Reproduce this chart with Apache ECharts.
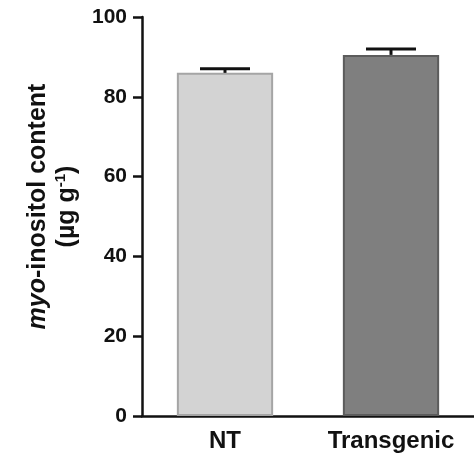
<!DOCTYPE html>
<html>
<head>
<meta charset="utf-8">
<script src="https://cdn.jsdelivr.net/npm/echarts@6/dist/echarts.min.js"></script>
<style>
  html, body { margin: 0; padding: 0; background: #fff; }
  #chart { width: 474px; height: 455px; }
</style>
</head>
<body>
<div id="chart"></div>
<script>
// data
var categories = ['NT', 'Transgenic']
var meanValues = [86, 90.5]
var errValues = [1, 1.5]
var yTicks = [0, 20, 40, 60, 80, 100]

var barColors = ['#d3d3d3', '#7f7f7f']
var barBorders = ['#a5a5a5', '#5c5c5c']

var myChart = echarts.init(document.getElementById('chart'))
var font = 'Liberation Sans, Arial, sans-serif'

const option = {
  animation: false,
  grid: {
    left: 142,
    right: 0,
    top: 17,
    bottom: 39
  },
  xAxis: {
    type: 'category',
    data: categories,
    // 坐标轴
    axisLine: { lineStyle: { color: '#111', width: 2.5 } },
    axisTick: { alignWithLabel: true, length: 8, lineStyle: { color: '#111', width: 2.5 } },
    axisLabel: {
      color: '#111',
      fontFamily: font,
      fontWeight: 'bold',
      fontSize: 24,
      margin: 13
    }
  },
  yAxis: {
    type: 'value',
    min: 0,
    max: 100,
    interval: 20,
    axisLine: { show: true, lineStyle: { color: '#111', width: 2.5 } },
    axisTick: { show: true, length: 9, lineStyle: { color: '#111', width: 2.5 } },
    axisLabel: {
      color: '#111',
      fontFamily: font,
      fontWeight: 'bold',
      fontSize: 21,
      margin: 15,
      formatter: function (v) { return yTicks.indexOf(v) >= 0 ? String(v) : '' }
    },
    splitLine: { show: false },
    name: '{it|myo}{b|-inositol content}\n{b|(µg g}{sup|-1}{b|)}',
    nameLocation: 'middle',
    nameRotate: 90,
    nameGap: 60,
    nameTextStyle: {
      color: '#111',
      padding: [0, 0, 0, 20],
      rich: {
        it: { fontFamily: font, fontWeight: 'bold', fontStyle: 'italic', fontSize: 25, lineHeight: 29 },
        b: { fontFamily: font, fontWeight: 'bold', fontSize: 25, lineHeight: 29 },
        sup: { fontFamily: font, fontWeight: 'bold', fontSize: 15, lineHeight: 29, verticalAlign: 'top', padding: [0, 0, 10, 0] }
      }
    }
  },
  series: [
    {
      type: 'bar',
      barWidth: '58%',
      data: meanValues.map(function (v, i) {
        return {
          value: v,
          itemStyle: { color: barColors[i], borderColor: barBorders[i], borderWidth: 2 }
        }
      })
    },
    {
      // 误差线 (upper only)
      type: 'custom',
      data: meanValues.map(function (v, i) { return [i, v, v + errValues[i]] }),
      renderItem: function (params, api) {
        var base = api.coord([api.value(0), api.value(1)])
        var top = api.coord([api.value(0), api.value(2)])
        var half = 25
        var style = { stroke: '#111', lineWidth: 3 }
        return {
          type: 'group',
          children: [
            { type: 'line', shape: { x1: base[0], y1: base[1], x2: top[0], y2: top[1] }, style: style },
            { type: 'line', shape: { x1: top[0] - half, y1: top[1], x2: top[0] + half, y2: top[1] }, style: style }
          ]
        }
      },
      z: 5
    }
  ]
}

myChart.setOption(option)
</script>
</body>
</html>
